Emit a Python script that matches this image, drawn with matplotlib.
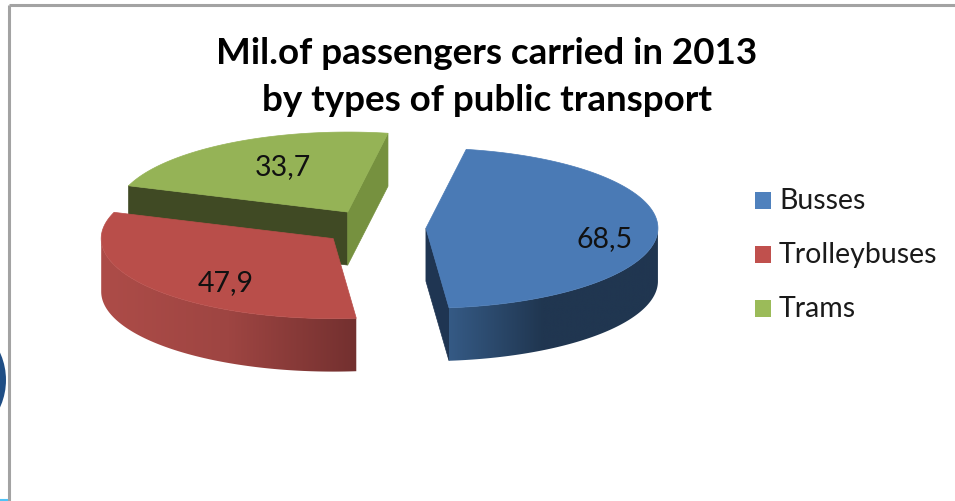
import numpy as np
import matplotlib
matplotlib.use("Agg")
import matplotlib.pyplot as plt
from matplotlib.colors import LinearSegmentedColormap
from matplotlib.patches import Circle, Polygon, Rectangle

categories = ["Busses", "Trolleybuses", "Trams"]
passengers = [68.5, 47.9, 33.7]
value_labels = ["68,5", "47,9", "33,7"]

top_colors = ["#4a7ab5", "#b94e4a", "#95b356"]
legend_colors = ["#4f81bd", "#c0504d", "#9bbb59"]
title_lines = ["Mil.of passengers carried in 2013", "by types of public transport"]

plt.rcParams["font.family"] = ["Lato", "DejaVu Sans"]

fig = plt.figure(figsize=(9.55, 5.01), dpi=100)
ax = fig.add_axes([0, 0, 1, 1])

# Pie projection: a tilted disc with exploded slices.
cx, cy = 374, 227.5
rx, ry = 232, 80
explode = 0.224
depth = 53
start_angle = 80.0

fractions = np.array(passengers) / sum(passengers)
sweeps = fractions * 360
ends = start_angle - np.cumsum(sweeps)
starts = ends + sweeps
mids = (starts + ends) / 2
centers = [(cx + explode * rx * np.cos(np.radians(m)),
            cy - explode * ry * np.sin(np.radians(m))) for m in mids]


def rim(center, t):
    t = np.radians(t)
    return np.column_stack((center[0] + rx * np.cos(t), center[1] - ry * np.sin(t)))


def top_face(i):
    arc = rim(centers[i], np.linspace(starts[i], ends[i], 200))
    return np.vstack(([centers[i]], arc))


def radial_face(i, angle, color, z):
    p = rim(centers[i], np.array([angle]))[0]
    c = centers[i]
    pts = [c, p, (p[0], p[1] + depth), (c[0], c[1] + depth)]
    ax.add_patch(Polygon(pts, closed=True, fc=color, ec=color, lw=0.5, zorder=z))


def outer_wall(i, t_from, t_to, stops, z):
    # Outer rim of a slice, shaded left to right with a horizontal gradient.
    pts = rim(centers[i], np.linspace(t_from, t_to, 200))
    outline = np.vstack((pts, pts[::-1] + (0, depth)))
    x0, x1 = pts[:, 0].min(), pts[:, 0].max()
    y0, y1 = outline[:, 1].min(), outline[:, 1].max()
    cmap = LinearSegmentedColormap.from_list("wall", stops)
    im = ax.imshow(np.linspace(0, 1, 256).reshape(1, -1), cmap=cmap, vmin=0, vmax=1,
                   extent=(x0, x1, y1, y0), aspect="auto", interpolation="bilinear", zorder=z)
    im.set_clip_path(Polygon(outline, closed=True, transform=ax.transData))


# Trams, farthest back
radial_face(2, starts[2], "#404a24", 2)
radial_face(2, ends[2], "#76913f", 2)
ax.add_patch(Polygon(top_face(2), closed=True, fc=top_colors[2], ec=top_colors[2], lw=0.5, zorder=3))

# Trolleybuses
outer_wall(1, -180, ends[0], [(0, "#ad4c48"), (0.5, "#9e4542"), (1, "#73302f")], 4)
ax.add_patch(Polygon(top_face(1), closed=True, fc=top_colors[1], ec=top_colors[1], lw=0.5, zorder=5))

# Busses, in front
radial_face(0, ends[0], "#1f3552", 6)
outer_wall(0, ends[0], 0, [(0, "#355a85"), (0.45, "#203650"), (1, "#203650")], 6)
ax.add_patch(Polygon(top_face(0), closed=True, fc=top_colors[0], ec=top_colors[0], lw=0.5, zorder=7))

# Slice values
label_pos = [(605, 239), (226, 283), (283, 167)]
for text, (x, y) in zip(value_labels, label_pos):
    ax.text(x, y, text, fontsize=20.5, color="#111111", ha="center", va="center", zorder=10)

for line, y in zip(title_lines, (53, 100)):
    ax.text(487, y, line, fontsize=26.5, fontweight="bold", color="black",
            ha="center", va="center", zorder=10)

# Legend
for name, col, y in zip(categories, legend_colors, (200, 254, 308)):
    ax.add_patch(Rectangle((754.5, y - 8.5), 16.5, 17, fc=col, ec="none", zorder=10))
    ax.text(779, y + 1, name, fontsize=20.5, color="#1a1a1a", ha="left", va="center", zorder=10)

# Slide frame and decoration around the chart
ax.plot([9, 9], [5, 501], color="#a3a3a3", lw=2.2, solid_capstyle="butt", zorder=1)
ax.plot([9, 955], [5, 5], color="#a3a3a3", lw=2.2, solid_capstyle="butt", zorder=1)
ax.add_patch(Circle((-60, 380), 63, fc="none", ec="#1f4e85", lw=4.3, zorder=1))
ax.plot([0, 8], [500, 500], color="#4fc3f7", lw=1.5, solid_capstyle="butt", zorder=1)

ax.set_xlim(0, 955)
ax.set_ylim(501, 0)
ax.axis("off")

fig.savefig("out.png", dpi=100, facecolor="white")
